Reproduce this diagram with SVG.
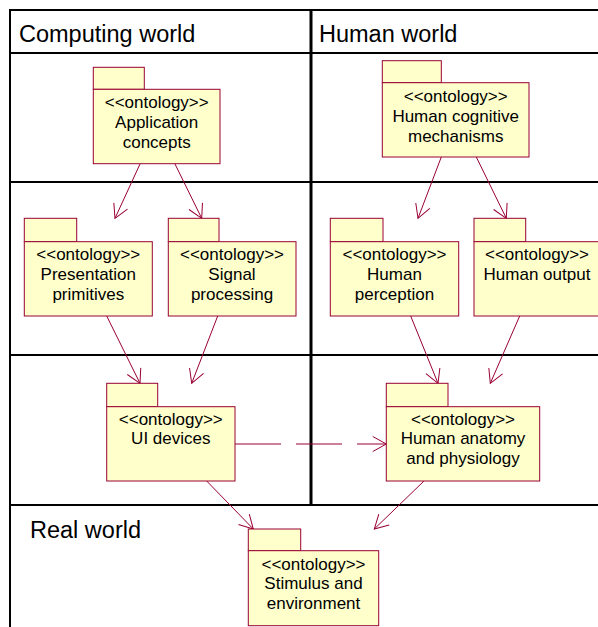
<svg xmlns="http://www.w3.org/2000/svg" width="598" height="627" viewBox="0 0 598 627">
<style>
.frame{stroke:#000;stroke-width:2;fill:none}
.pkg{fill:#FFFFCC;stroke:#990033;stroke-width:1}
.lbl{font-family:"Liberation Sans",Arial,sans-serif;font-size:17px;fill:#000;text-anchor:middle}
.title{font-family:"Liberation Sans",Arial,sans-serif;font-size:23.5px;fill:#000}
.dep{stroke:#990033;stroke-width:1;fill:none;marker-end:url(#open)}
</style>
<defs>
<marker id="open" viewBox="-16 -10 18 20" refX="0" refY="0" markerWidth="18" markerHeight="20" markerUnits="userSpaceOnUse" orient="auto" overflow="visible">
<path d="M-13.5,-7.5 L0,0 L-13.5,7.5" fill="none" stroke="#990033" stroke-width="1"/>
</marker>
</defs>
<rect width="598" height="627" fill="#fff"/>
<g id="frame">
<line class="frame" x1="10" y1="10" x2="598" y2="10"/>
<line class="frame" x1="10" y1="53" x2="598" y2="53"/>
<line class="frame" x1="10" y1="182" x2="598" y2="182"/>
<line class="frame" x1="10" y1="355" x2="598" y2="355"/>
<line class="frame" x1="10" y1="505" x2="598" y2="505"/>
<line class="frame" x1="10" y1="9" x2="10" y2="627"/>
<line class="frame" x1="311" y1="9" x2="311" y2="506" style="stroke-width:3"/>
<text class="title" x="19" y="42">Computing world</text>
<text class="title" x="319" y="42">Human world</text>
<text class="title" x="30" y="538">Real world</text>
</g>
<g id="connectors">
<line class="dep" x1="140" y1="164" x2="115" y2="218.3"/>
<line class="dep" x1="175" y1="164" x2="201.7" y2="218.3"/>
<line class="dep" x1="441.3" y1="157" x2="418" y2="218.3"/>
<line class="dep" x1="476.3" y1="157" x2="506.3" y2="218.3"/>
<line class="dep" x1="106.7" y1="316" x2="140" y2="383.3"/>
<line class="dep" x1="217.7" y1="316" x2="191.7" y2="383.3"/>
<line class="dep" x1="410.7" y1="316" x2="438" y2="383.3"/>
<line class="dep" x1="519.7" y1="316" x2="490.3" y2="383.3"/>
<line class="dep" x1="235" y1="444" x2="386.3" y2="444" style="stroke-dasharray:46 15"/>
<line class="dep" x1="206.7" y1="481" x2="253.3" y2="529"/>
<line class="dep" x1="424" y1="481" x2="374.3" y2="529"/>
</g>
<g id="app-concepts">
<rect class="pkg" x="93.3" y="67.3" width="51" height="22"/>
<rect class="pkg" x="93.3" y="89.3" width="126.7" height="74.4"/>
<text class="lbl" x="156.7" y="108">&lt;&lt;ontology&gt;&gt;</text>
<text class="lbl" x="156.7" y="128">Application</text>
<text class="lbl" x="156.7" y="148">concepts</text>
</g>
<g id="human-cognitive">
<rect class="pkg" x="382.3" y="60.7" width="59" height="22"/>
<rect class="pkg" x="382.3" y="82.7" width="146.7" height="74.3"/>
<text class="lbl" x="455.7" y="101.7">&lt;&lt;ontology&gt;&gt;</text>
<text class="lbl" x="455.7" y="121.7">Human cognitive</text>
<text class="lbl" x="455.7" y="141.7">mechanisms</text>
</g>
<g id="presentation-primitives">
<rect class="pkg" x="24.3" y="218.3" width="52.4" height="23.4"/>
<rect class="pkg" x="24.3" y="241.7" width="128" height="74.3"/>
<text class="lbl" x="88.3" y="260">&lt;&lt;ontology&gt;&gt;</text>
<text class="lbl" x="88.3" y="280">Presentation</text>
<text class="lbl" x="88.3" y="300">primitives</text>
</g>
<g id="signal-processing">
<rect class="pkg" x="168.3" y="218.3" width="50.7" height="23.4"/>
<rect class="pkg" x="168.3" y="241.7" width="127.7" height="74.3"/>
<text class="lbl" x="232" y="260">&lt;&lt;ontology&gt;&gt;</text>
<text class="lbl" x="232" y="280">Signal</text>
<text class="lbl" x="232" y="300">processing</text>
</g>
<g id="human-perception">
<rect class="pkg" x="330.3" y="218.3" width="52.7" height="23.4"/>
<rect class="pkg" x="330.3" y="241.7" width="128.4" height="74.3"/>
<text class="lbl" x="394.5" y="260">&lt;&lt;ontology&gt;&gt;</text>
<text class="lbl" x="394.5" y="280">Human</text>
<text class="lbl" x="394.5" y="300">perception</text>
</g>
<g id="human-output">
<rect class="pkg" x="474" y="218.3" width="51.7" height="23.4"/>
<rect class="pkg" x="474" y="241.7" width="126" height="74.3"/>
<text class="lbl" x="537" y="260">&lt;&lt;ontology&gt;&gt;</text>
<text class="lbl" x="537" y="280">Human output</text>
</g>
<g id="ui-devices">
<rect class="pkg" x="106.7" y="383.3" width="51" height="23.4"/>
<rect class="pkg" x="106.7" y="406.7" width="128.3" height="74.3"/>
<text class="lbl" x="170.8" y="424.5">&lt;&lt;ontology&gt;&gt;</text>
<text class="lbl" x="170.8" y="444">UI devices</text>
</g>
<g id="human-anatomy">
<rect class="pkg" x="386.3" y="383.3" width="61.7" height="23.4"/>
<rect class="pkg" x="386.3" y="406.7" width="153.4" height="74.3"/>
<text class="lbl" x="463" y="424.5">&lt;&lt;ontology&gt;&gt;</text>
<text class="lbl" x="463" y="444">Human anatomy</text>
<text class="lbl" x="463" y="463.5">and physiology</text>
</g>
<g id="stimulus">
<rect class="pkg" x="248.3" y="529" width="52.4" height="21.7"/>
<rect class="pkg" x="248.3" y="550.7" width="130.4" height="75"/>
<text class="lbl" x="313.5" y="569.5">&lt;&lt;ontology&gt;&gt;</text>
<text class="lbl" x="313.5" y="589.3">Stimulus and</text>
<text class="lbl" x="313.5" y="609.3">environment</text>
</g>
</svg>
